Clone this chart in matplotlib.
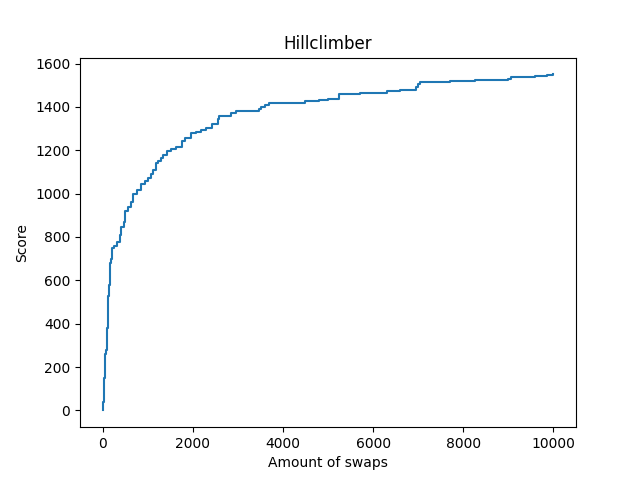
import matplotlib
matplotlib.use("Agg")
import matplotlib.pyplot as plt

swaps = [0, 20, 40, 55, 70, 90, 110, 130, 150, 170, 190, 210, 260, 330, 380, 420,
         470, 500, 560, 620, 680, 760, 860, 950, 1000, 1080, 1120, 1180, 1220, 1290,
         1350, 1420, 1520, 1620, 1760, 1820, 1960, 2080, 2180, 2300, 2420, 2560, 2580,
         2850, 2950, 3480, 3520, 3600, 3700, 4100, 4500, 4800, 5000, 5240, 5700, 6000,
         6300, 6600, 6950, 7000, 7050, 7700, 8250, 8350, 9000, 9050, 9600, 9850, 10000]
scores = [0, 40, 150, 260, 280, 380, 450, 530, 580, 680, 700, 750, 760, 775, 810, 845,
          870, 920, 940, 960, 1000, 1015, 1045, 1060, 1070, 1090, 1110, 1140, 1150, 1165,
          1180, 1195, 1205, 1215, 1245, 1255, 1280, 1285, 1295, 1305, 1320, 1345, 1360,
          1370, 1380, 1390, 1400, 1410, 1418, 1420, 1425, 1432, 1435, 1460, 1462, 1466,
          1474, 1480, 1490, 1505, 1515, 1518, 1522, 1526, 1528, 1538, 1542, 1546, 1550]

fig, ax = plt.subplots(figsize=(6.4, 4.8), dpi=100)
ax.plot(swaps, scores, drawstyle="steps-post")
ax.set_title("Hillclimber")
ax.set_xlabel("Amount of swaps")
ax.set_ylabel("Score")
fig.savefig("out.png")
